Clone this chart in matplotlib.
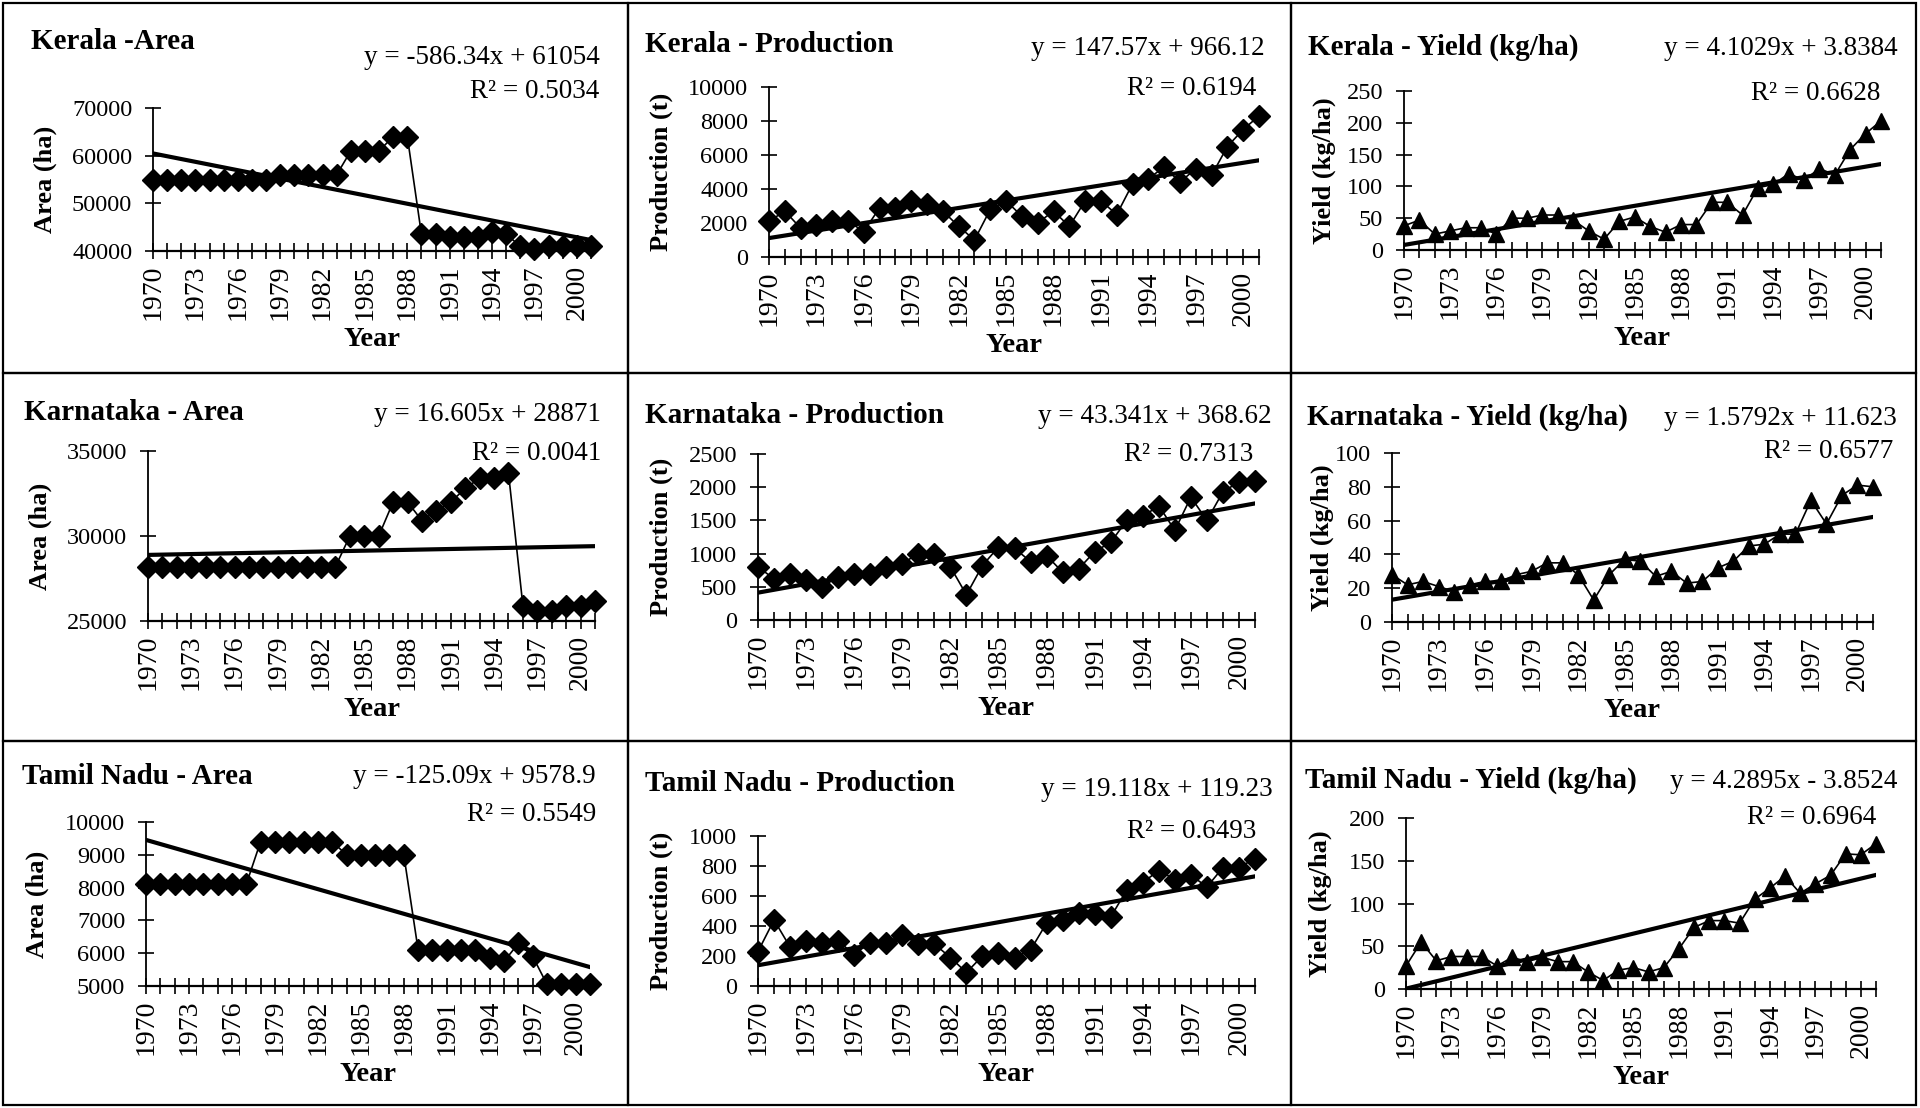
import numpy as np
import matplotlib
matplotlib.use("Agg")
import matplotlib.pyplot as plt
from matplotlib.patches import Rectangle

plt.rcParams['font.family'] = ['Liberation Serif', 'DejaVu Serif']

years = list(range(1970, 2002))
year_labels = [str(y) if (y - 1970) % 3 == 0 else '' for y in years]

kerala_area = [55000] * 9 + [56000] * 5 + [61000] * 3 + [64000] * 2 + \
    [43500, 43500, 43000, 43000, 43000, 44000, 43500] + [41000, 40500, 41000, 41000, 41000, 41000]
kerala_prod = [2100, 2700, 1700, 1900, 2100, 2100, 1500, 2900, 2900, 3300, 3100, 2700, 1800, 1000, 2800, 3300,
               2400, 2000, 2700, 1800, 3300, 3300, 2500, 4300, 4600, 5300, 4400, 5200, 4800, 6500, 7500, 8300]
kerala_yield = [38, 47, 25, 30, 35, 35, 25, 50, 50, 55, 55, 47, 30, 17, 45, 52,
                37, 28, 40, 40, 75, 75, 55, 98, 103, 120, 110, 128, 118, 158, 183, 203]

karn_area = [28200] * 14 + [30000] * 3 + [32000, 32000, 30900, 31500, 32000, 32800, 33400, 33400, 33700] + \
    [25900, 25600, 25600, 25900, 25900, 26200]
karn_prod = [800, 620, 700, 600, 500, 650, 700, 700, 800, 850, 1000, 1000, 800, 380, 820, 1100,
             1080, 880, 970, 720, 770, 1030, 1170, 1500, 1560, 1720, 1350, 1850, 1500, 1930, 2080, 2100]
karn_yield = [28, 22, 24, 21, 18, 22, 24, 24, 28, 30, 35, 35, 28, 13, 28, 37,
              36, 27, 30, 23, 24, 32, 36, 45, 46, 52, 52, 72, 58, 75, 81, 80]

tn_area = [8100] * 8 + [9400] * 6 + [9000] * 5 + [6100] * 5 + [5850, 5750, 6300, 5900] + [5050] * 4
tn_prod = [230, 440, 260, 300, 290, 300, 210, 290, 290, 340, 280, 280, 190, 90, 200, 220,
           190, 240, 420, 440, 490, 480, 460, 640, 690, 770, 710, 740, 660, 790, 790, 850]
tn_yield = [27, 55, 33, 38, 38, 38, 27, 37, 32, 37, 32, 32, 20, 10, 22, 25,
            20, 25, 47, 72, 80, 80, 77, 105, 118, 132, 112, 123, 133, 158, 157, 170]

titles = ['Kerala -Area', 'Kerala - Production', 'Kerala - Yield (kg/ha)',
          'Karnataka - Area', 'Karnataka - Production', 'Karnataka - Yield (kg/ha)',
          'Tamil Nadu - Area', 'Tamil Nadu - Production', 'Tamil Nadu - Yield (kg/ha)']
series = [kerala_area, kerala_prod, kerala_yield, karn_area, karn_prod, karn_yield, tn_area, tn_prod, tn_yield]
slopes = [-586.34, 147.57, 4.1029, 16.605, 43.341, 1.5792, -125.09, 19.118, 4.2895]
intercepts = [61054, 966.12, 3.8384, 28871, 368.62, 11.623, 9578.9, 119.23, -3.8524]
equations = ['y = -586.34x + 61054', 'y = 147.57x + 966.12', 'y = 4.1029x + 3.8384',
             'y = 16.605x + 28871', 'y = 43.341x + 368.62', 'y = 1.5792x + 11.623',
             'y = -125.09x + 9578.9', 'y = 19.118x + 119.23', 'y = 4.2895x - 3.8524']
r2_texts = ['R² = 0.5034', 'R² = 0.6194', 'R² = 0.6628',
            'R² = 0.0041', 'R² = 0.7313', 'R² = 0.6577',
            'R² = 0.5549', 'R² = 0.6493', 'R² = 0.6964']
y_labels = ['Area (ha)', 'Production (t)', 'Yield (kg/ha)'] * 3
y_ticks = [[40000, 50000, 60000, 70000], [0, 2000, 4000, 6000, 8000, 10000], [0, 50, 100, 150, 200, 250],
           [25000, 30000, 35000], [0, 500, 1000, 1500, 2000, 2500], [0, 20, 40, 60, 80, 100],
           [5000, 6000, 7000, 8000, 9000, 10000], [0, 200, 400, 600, 800, 1000], [0, 50, 100, 150, 200]]
markers = ['D', 'D', '^'] * 3

W, H = 1920, 1108
fig = plt.figure(figsize=(W / 100, H / 100), dpi=100)

# axes boxes in pixels: left, top, right, bottom
boxes = [(153, 108, 591, 251), (769, 87, 1259, 257), (1404, 91, 1881, 250),
         (148, 451, 595, 621), (758, 454, 1255, 620), (1392, 453, 1873, 622),
         (146, 822, 590, 986), (758, 836, 1255, 986), (1406, 818, 1876, 989)]
# text baselines in pixels
title_pos = [(31, 49), (645, 52), (1308, 55), (24, 420), (645, 423), (1307, 425), (22, 784), (645, 791), (1305, 788)]
eq_pos = [(600, 64), (1265, 55), (1898, 55), (601, 421), (1272, 423), (1897, 425), (596, 783), (1273, 796), (1897, 788)]
r2_pos = [(599, 98), (1256, 95), (1880, 100), (601, 460), (1253, 461), (1893, 458), (596, 821), (1256, 838), (1876, 824)]
ylab_x = [45, 661, 1324, 40, 661, 1322, 37, 661, 1320]
panels = [(3, 3, 628, 373), (628, 3, 1291, 373), (1291, 3, 1916, 373),
          (3, 373, 628, 741), (628, 373, 1291, 741), (1291, 373, 1916, 741),
          (3, 741, 628, 1105), (628, 741, 1291, 1105), (1291, 741, 1916, 1105)]

for p in panels:
    fig.patches.append(Rectangle((p[0] / W, 1 - p[3] / H), (p[2] - p[0]) / W, (p[3] - p[1]) / H,
                                 transform=fig.transFigure, fill=False, ec='black', lw=1.6))

x_idx = np.arange(1, len(years) + 1)
for i in range(9):
    l, t, r, b = boxes[i]
    ax = fig.add_axes([l / W, 1 - b / H, (r - l) / W, (b - t) / H])
    ax.plot(years, series[i], color='black', lw=1.2, marker=markers[i],
            markersize=11 if markers[i] == 'D' else 12, markerfacecolor='black', markeredgecolor='black',
            clip_on=False)
    ax.plot(years, slopes[i] * x_idx + intercepts[i], color='black', lw=3)
    ax.set_xlim(1970, 2001)
    ax.set_ylim(y_ticks[i][0], y_ticks[i][-1])
    ax.set_yticks(y_ticks[i])
    ax.set_xticks(years)
    ax.set_xticklabels(year_labels, rotation=90)
    ax.spines['top'].set_visible(False)
    ax.spines['right'].set_visible(False)
    ax.spines['left'].set_linewidth(1.3)
    ax.spines['bottom'].set_linewidth(1.6)
    ax.tick_params(direction='inout', length=12, width=1.2)
    ax.tick_params(axis='x', labelsize=20, pad=4)
    ax.tick_params(axis='y', labelsize=17.5, pad=9)
    ax.set_xlabel('Year', fontsize=20.5, fontweight='bold', labelpad=5)
    ax.patch.set_alpha(0)
    fig.text(ylab_x[i] / W, 1 - (t + b) / 2 / H, y_labels[i], fontsize=19, fontweight='bold',
             rotation=90, ha='center', va='center')
    fig.text(title_pos[i][0] / W, 1 - title_pos[i][1] / H, titles[i], fontsize=21, fontweight='bold',
             ha='left', va='baseline')
    fig.text(eq_pos[i][0] / W, 1 - eq_pos[i][1] / H, equations[i], fontsize=19.5, ha='right', va='baseline')
    fig.text(r2_pos[i][0] / W, 1 - r2_pos[i][1] / H, r2_texts[i], fontsize=19.5, ha='right', va='baseline')

fig.savefig('out.png', dpi=100, facecolor='white')
